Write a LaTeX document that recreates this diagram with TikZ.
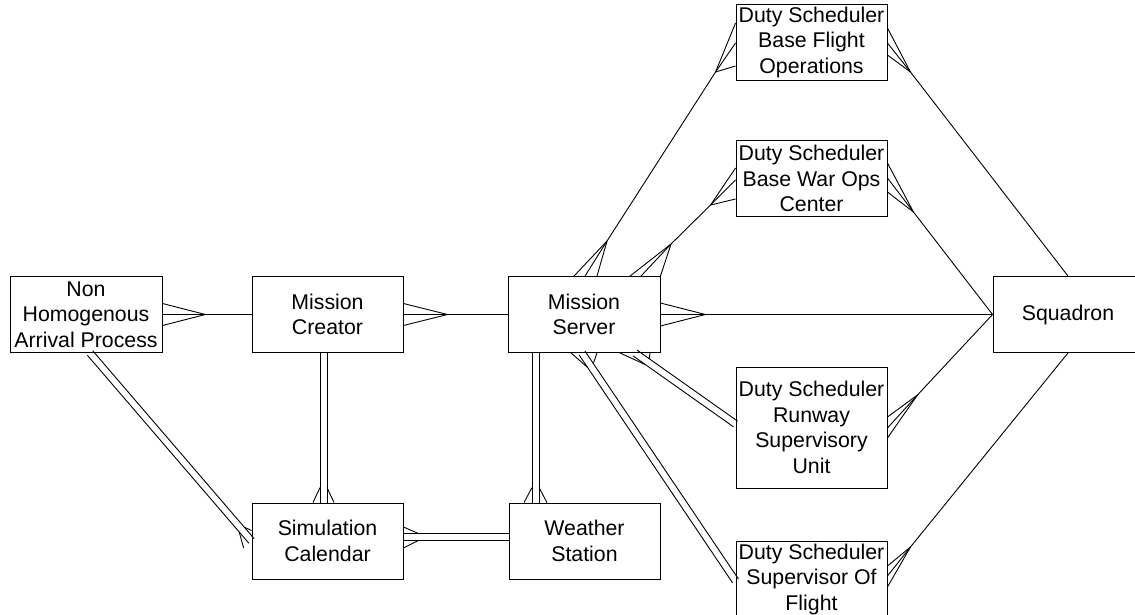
\documentclass[tikz,border=0pt]{standalone}
\usepackage{fontspec}
\setmainfont{Liberation Sans}
\usetikzlibrary{calc}
\begin{document}
\begin{tikzpicture}[x=1pt,y=-1pt,
  ent/.style={draw, line width=0.9pt, minimum width=151pt, minimum height=76pt,
    inner sep=0pt, align=center, font=\fontsize{21.3}{25.5}\selectfont},
  con/.style={line width=0.9pt, line join=round}]
\useasboundingbox (0,0) rectangle (1135,615);
% entities
\node[ent, minimum width=152pt] (nhap) at (86,314.5) {Non\\Homogenous\\Arrival Process};
\node[ent] (mc) at (327.5,314.5) {Mission\\Creator};
\node[ent, minimum width=152pt] (ms) at (584,314.5) {Mission\\Server};
\node[ent, minimum width=150pt] (sq) at (1068,314.5) {Squadron};
\node[ent] (sc) at (327.5,541) {Simulation\\Calendar};
\node[ent] (ws) at (584.5,541) {Weather\\Station};
\node[ent] (bfo) at (811.5,42) {Duty Scheduler\\Base Flight\\Operations};
\node[ent] (bwo) at (811.5,178.5) {Duty Scheduler\\Base War Ops\\Center};
\node[ent, minimum height=121pt] (rsu) at (811.5,427.5) {Duty Scheduler\\Runway\\Supervisory\\Unit};
\node[ent] (sof) at (811.5,579) {Duty Scheduler\\Supervisor Of\\Flight};
% end points of the double connectors
\coordinate (k1) at ($(mc.south)+(-4,0)$);   \coordinate (k2) at ($(sc.north)+(-4,0)$);
\coordinate (l1) at ($(ms.south)+(-48.5,0)$); \coordinate (l2) at ($(ws.north)+(-49,0)$);
\coordinate (m1) at ($(sc.east)+(0,-4)$);    \coordinate (m2) at ($(ws.west)+(0,-4)$);
\coordinate (n1) at ($(nhap.south)+(4,0)$);  \coordinate (n2) at (sc.west);
\coordinate (o1) at ($(ms.south)+(51,0)$);   \coordinate (o2) at ($(rsu.west)+(0,-3.5)$);
\coordinate (p1) at ($(ms.south)+(-2,0)$);   \coordinate (p2) at ($(sof.west)+(0,2)$);
% double connectors (two parallel lines)
\foreach \a/\b in {k1/k2, l1/l2, m1/m2, n1/n2, o1/o2, p1/p2}{
  \draw[con] ($(\a)!3.5pt!90:(\b)$) -- ($(\b)!3.5pt!-90:(\a)$);
  \draw[con] ($(\a)!3.5pt!-90:(\b)$) -- ($(\b)!3.5pt!90:(\a)$);
}
% crow's feet on double connectors
\draw[con] ($(sc.north)+(-7.5,-15)$) -- ($(sc.north)+(-14.5,0)$);
\draw[con] ($(sc.north)+(-0.5,-15)$) -- ($(sc.north)+(6.5,0)$);
\draw[con] ($(ws.north)+(-52.5,-15)$) -- ($(ws.north)+(-60.5,0)$);
\draw[con] ($(ws.north)+(-45.5,-15)$) -- ($(ws.north)+(-37.5,0)$);
\draw[con] ($(sc.east)+(15,-7.5)$) -- ($(sc.east)+(0,-14)$);
\draw[con] ($(sc.east)+(15,-0.5)$) -- ($(sc.east)+(0,7)$);
\draw[con] ($(sc.west)+(-7.1,-13.7)$) -- ($(sc.west)+(0,-10.5)$);
\draw[con] ($(sc.west)+(-12.4,-9.1)$) -- ($(sc.west)+(-7.9,7)$);
\draw[con] ($(ms.south)+(65.2,5.9)$) -- ($(ms.south)+(66,0)$);
\draw[con] ($(ms.south)+(61.2,11.6)$) -- ($(ms.south)+(36,0)$);
\draw[con] ($(ms.south)+(9.3,10.5)$) -- ($(ms.south)+(13,0)$);
\draw[con] ($(ms.south)+(3.5,14.4)$) -- ($(ms.south)+(-13,0)$);
% horizontal single connectors
\draw[con] (nhap.east) -- (mc.west);
\draw[con] ($(nhap.east)+(0,-11)$) -- ($(nhap.east)+(43,0)$) -- ($(nhap.east)+(0,11)$);
\draw[con] (mc.east) -- (ms.west);
\draw[con] ($(mc.east)+(0,-11)$) -- ($(mc.east)+(44,0)$) -- ($(mc.east)+(0,11)$);
\draw[con] (ms.east) -- (sq.west);
\draw[con] ($(ms.east)+(0,-11.5)$) -- ($(ms.east)+(45,0)$) -- ($(ms.east)+(0,11.5)$);
% Mission Server -- Base Flight Operations
\coordinate (dA) at ($(ms.north)+(23,-35)$);
\coordinate (dB) at ($(bfo.west)+(-20,30)$);
\draw[con] ($(ms.north)+(1,0)$) -- (dA) -- (dB) -- ($(bfo.west)+(0,1)$);
\draw[con] ($(ms.north)+(-10,0)$) -- (dA) -- ($(ms.north)+(13,0)$);
\draw[con] ($(bfo.west)+(0,-19)$) -- (dB) -- ($(bfo.west)+(0,24)$);
% Mission Server -- Base War Ops Center
\coordinate (eA) at ($(ms.north)+(87,-32)$);
\coordinate (eB) at ($(bwo.west)+(-25,26.5)$);
\draw[con] ($(ms.north)+(57,0)$) -- (eA) -- (eB) -- ($(bwo.west)+(0,1.5)$);
\draw[con] ($(ms.north)+(46,0)$) -- (eA) -- (ms.north east);
\draw[con] ($(bwo.west)+(0,-10.5)$) -- (eB) -- ($(bwo.west)+(0,20.5)$);
% schedulers -- Squadron
\coordinate (fA) at ($(bfo.east)+(23,30)$);
\draw[con] ($(bfo.east)+(0,1)$) -- (fA) -- (sq.north);
\draw[con] ($(bfo.east)+(0,-14)$) -- (fA) -- ($(bfo.east)+(0,13)$);
\coordinate (gA) at ($(bwo.east)+(26,33.5)$);
\draw[con] ($(bwo.east)+(0,-0.5)$) -- (gA) -- (sq.west);
\draw[con] ($(bwo.east)+(0,-15.5)$) -- (gA) -- ($(bwo.east)+(0,13.5)$);
\coordinate (hA) at ($(rsu.east)+(30,-32.5)$);
\draw[con] ($(rsu.east)+(0,0.5)$) -- (hA) -- (sq.west);
\draw[con] ($(rsu.east)+(0,-10.5)$) -- (hA) -- ($(rsu.east)+(0,10.5)$);
\coordinate (iA) at ($(sof.east)+(23,-32)$);
\draw[con] ($(sof.east)+(0,-3)$) -- (iA) -- (sq.south);
\draw[con] ($(sof.east)+(0,-13)$) -- (iA) -- ($(sof.east)+(0,8)$);
\end{tikzpicture}
\end{document}
